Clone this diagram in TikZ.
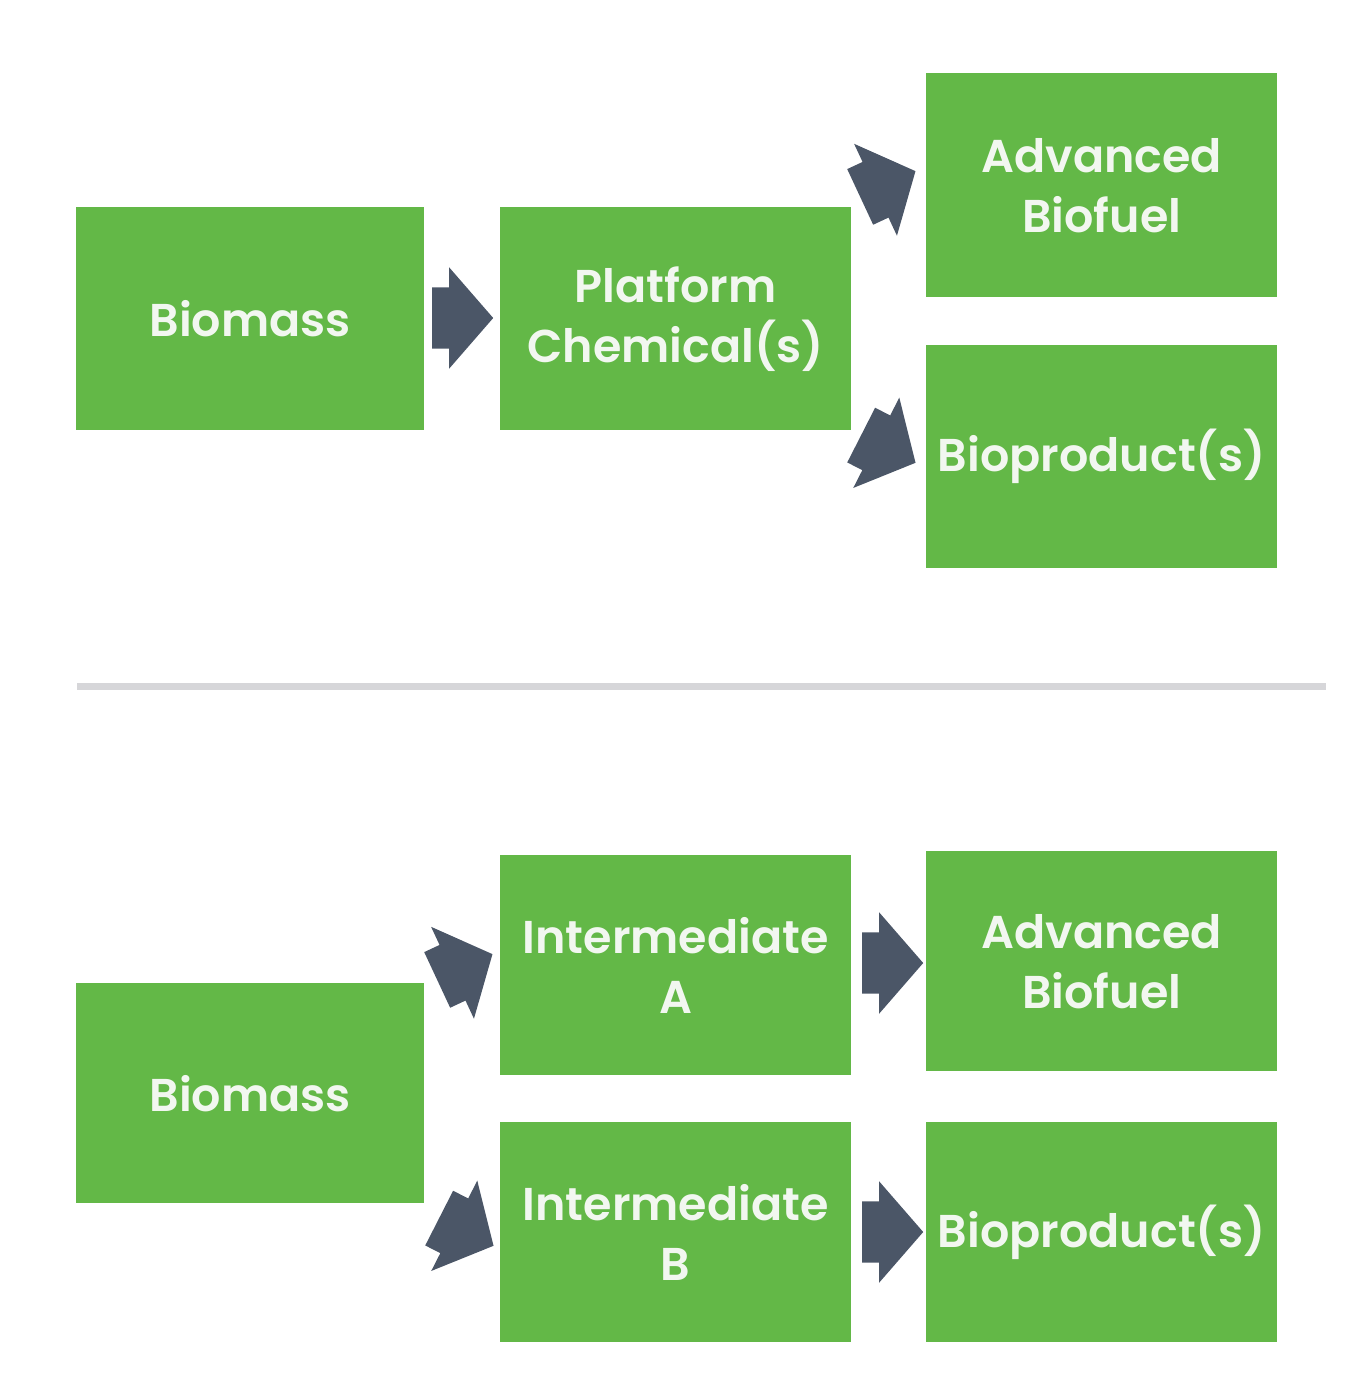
\documentclass[tikz,border=0pt]{standalone}
\usepackage{fontspec}
\setmainfont{Poppins SemiBold}
\usetikzlibrary{shapes.arrows}
\definecolor{boxgreen}{HTML}{63B847}
\definecolor{arrowgray}{HTML}{4B5667}
\definecolor{rulegray}{HTML}{D6D6D9}
\definecolor{boxtext}{HTML}{F2F7F0}
\begin{document}
\begin{tikzpicture}[x=1pt,y=-1pt,
  box/.style={fill=boxgreen, draw=none, anchor=north west, inner sep=0pt,
    text=boxtext, align=center, font=\fontsize{46}{60}\selectfont},
  blockarrow/.style={single arrow, fill=arrowgray, draw=none, anchor=tail,
    minimum height=61pt, inner xsep=0pt, inner ysep=30.5pt, text height=0pt, text depth=0pt,
    single arrow head extend=20pt, single arrow tip angle=98}]
\useasboundingbox (0,0) rectangle (1350,1398);
% top row
\node[box, minimum width=348pt, minimum height=223pt] (bm1) at (76,207) {Biomass};
\node[box, minimum width=351pt, minimum height=223pt] (pc) at (500,207) {Platform\\Chemical(s)};
\node[box, minimum width=351pt, minimum height=224pt] (ab1) at (926,73) {Advanced\\Biofuel};
\node[box, minimum width=351pt, minimum height=223pt] (bp1) at (926,345) {Bioproduct(s)};
\node[blockarrow] (a1) at (432,318) {};
\node[blockarrow, rotate=25] (a2) at (860,197) {};
\node[blockarrow, rotate=-27] (a3) at (861,435) {};
% divider
\coordinate (dl) at (77,686);
\coordinate (dr) at (1326,686);
\draw[rulegray, line width=7pt] (dl) -- (dr);
% bottom row
\node[box, minimum width=348pt, minimum height=220pt] (bm2) at (76,983) {Biomass};
\node[box, minimum width=351pt, minimum height=220pt] (ia) at (500,855) {Intermediate\\A};
\node[box, minimum width=351pt, minimum height=220pt] (ib) at (500,1122) {Intermediate\\B};
\node[box, minimum width=351pt, minimum height=220pt] (ab2) at (926,851) {Advanced\\Biofuel};
\node[box, minimum width=351pt, minimum height=220pt] (bp2) at (926,1122) {Bioproduct(s)};
\node[blockarrow, rotate=25] (a4) at (437,980) {};
\node[blockarrow, rotate=-27] (a5) at (439,1218) {};
\node[blockarrow] (a6) at (862,963) {};
\node[blockarrow] (a7) at (862,1232) {};
\end{tikzpicture}
\end{document}
